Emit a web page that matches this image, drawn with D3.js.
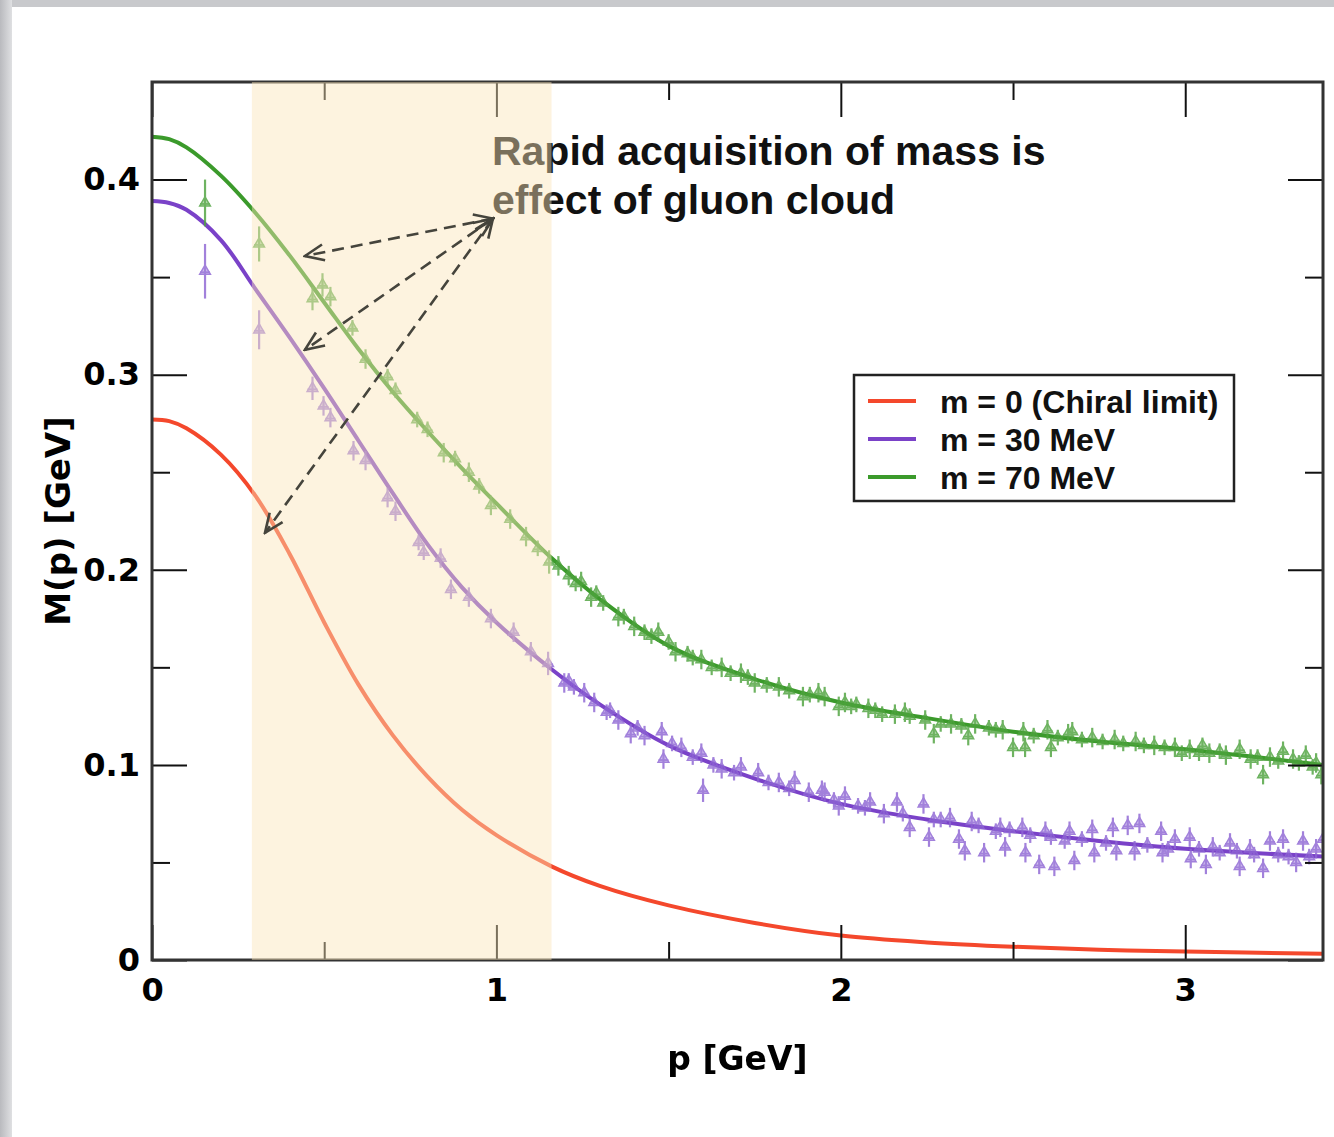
<!DOCTYPE html>
<html><head><meta charset="utf-8">
<script src="https://cdn.jsdelivr.net/npm/d3@7"></script>
<style>body{margin:0;background:#fff}svg{display:block}</style>
</head><body><script>
// ---------- data ----------
const curveP = [0,0.05,0.1,0.2,0.3,0.4,0.5,0.6,0.7,0.8,0.9,1.0,1.16,1.3,1.5,1.75,2.0,2.25,2.5,2.75,3.0,3.4];
const curveRed    = [0.277,0.2762,0.2725,0.259,0.238,0.208,0.173,0.141,0.115,0.094,0.077,0.064,0.048,0.038,0.028,0.019,0.0125,0.009,0.0068,0.0053,0.0043,0.0032];
const curvePurple = [0.389,0.388,0.3845,0.369,0.344,0.319,0.293,0.266,0.239,0.213,0.191,0.173,0.149,0.131,0.110,0.093,0.080,0.072,0.066,0.061,0.057,0.053];
const curveGreen  = [0.422,0.4207,0.4165,0.402,0.383,0.361,0.337,0.313,0.291,0.271,0.252,0.234,0.206,0.185,0.161,0.144,0.132,0.124,0.117,0.112,0.108,0.100];

const seriesNames = ["m = 0 (Chiral limit)","m = 30 MeV","m = 70 MeV"];

// lattice points [p, M, error]
const latticeGreen = [
[0.154,0.388,0.012],[0.311,0.367,0.009],[0.466,0.339,0.006],[0.495,0.346,0.006],[0.518,0.340,0.005],
[0.582,0.324,0.004],[0.620,0.308,0.005],[0.684,0.299,0.004],[0.707,0.292,0.004],[0.770,0.277,0.004],
[0.800,0.272,0.004],[0.847,0.260,0.005],[0.880,0.257,0.004],[0.920,0.250,0.005],[0.950,0.243,0.004],
[0.984,0.233,0.005],[1.040,0.226,0.005],[1.086,0.217,0.005],[1.120,0.211,0.004],[1.153,0.204,0.006],
[1.180,0.202,0.005],[1.210,0.197,0.005],[1.230,0.193,0.004],[1.246,0.194,0.005],[1.275,0.186,0.005],
[1.290,0.188,0.004],[1.310,0.183,0.004],[1.354,0.176,0.005],[1.370,0.176,0.004],[1.400,0.171,0.005],
[1.430,0.168,0.004],[1.450,0.166,0.004],[1.470,0.168,0.005],[1.500,0.163,0.004],[1.520,0.158,0.005],
[1.555,0.157,0.004],[1.570,0.155,0.004],[1.595,0.154,0.005],[1.625,0.150,0.004],[1.654,0.150,0.005],
[1.680,0.147,0.004],[1.710,0.147,0.005],[1.730,0.145,0.004],[1.750,0.142,0.005],[1.785,0.141,0.004],
[1.820,0.140,0.005],[1.850,0.138,0.004],[1.890,0.135,0.005],[1.910,0.136,0.004],[1.935,0.137,0.005],
[1.953,0.135,0.005],[1.994,0.130,0.005],[2.012,0.132,0.005],[2.030,0.130,0.004],[2.045,0.131,0.004],
[2.080,0.129,0.005],[2.100,0.128,0.004],[2.120,0.126,0.004],[2.157,0.126,0.005],[2.186,0.127,0.005],
[2.200,0.125,0.004],[2.245,0.123,0.005],[2.270,0.116,0.005],[2.290,0.121,0.004],[2.320,0.121,0.005],
[2.350,0.120,0.004],[2.370,0.115,0.005],[2.390,0.121,0.005],[2.430,0.119,0.004],[2.450,0.118,0.004],
[2.470,0.118,0.005],[2.500,0.109,0.005],[2.530,0.117,0.005],[2.535,0.109,0.005],[2.560,0.115,0.004],
[2.600,0.118,0.005],[2.610,0.109,0.005],[2.630,0.114,0.004],[2.660,0.116,0.005],[2.672,0.117,0.005],
[2.700,0.113,0.004],[2.730,0.114,0.005],[2.760,0.112,0.004],[2.795,0.113,0.005],[2.820,0.111,0.004],
[2.856,0.112,0.005],[2.880,0.110,0.004],[2.910,0.110,0.005],[2.940,0.109,0.004],[2.970,0.109,0.005],
[2.990,0.106,0.004],[3.013,0.108,0.005],[3.040,0.106,0.004],[3.050,0.110,0.004],[3.070,0.106,0.005],
[3.100,0.107,0.004],[3.118,0.105,0.005],[3.158,0.108,0.005],[3.190,0.103,0.005],[3.210,0.104,0.004],
[3.226,0.095,0.005],[3.246,0.104,0.005],[3.270,0.102,0.004],[3.284,0.107,0.005],[3.313,0.103,0.005],
[3.330,0.101,0.004],[3.350,0.105,0.005],[3.370,0.099,0.004],[3.380,0.101,0.005],[3.395,0.095,0.005]
];
const latticePurple = [
[0.154,0.353,0.014],[0.311,0.323,0.010],[0.466,0.293,0.006],[0.498,0.284,0.005],[0.518,0.278,0.005],
[0.585,0.261,0.005],[0.620,0.256,0.005],[0.684,0.237,0.005],[0.707,0.230,0.005],[0.774,0.214,0.004],
[0.789,0.209,0.004],[0.838,0.206,0.005],[0.868,0.190,0.005],[0.920,0.186,0.005],[0.984,0.175,0.005],
[1.050,0.168,0.005],[1.100,0.158,0.005],[1.150,0.152,0.006],[1.197,0.142,0.005],[1.210,0.143,0.004],
[1.225,0.140,0.004],[1.255,0.137,0.005],[1.284,0.132,0.005],[1.320,0.127,0.004],[1.330,0.128,0.004],
[1.354,0.123,0.005],[1.390,0.116,0.005],[1.410,0.119,0.004],[1.430,0.115,0.005],[1.480,0.117,0.005],
[1.485,0.103,0.005],[1.510,0.111,0.004],[1.537,0.109,0.005],[1.570,0.104,0.004],[1.595,0.106,0.005],
[1.600,0.087,0.006],[1.630,0.100,0.004],[1.654,0.098,0.005],[1.690,0.096,0.004],[1.710,0.099,0.005],
[1.760,0.096,0.005],[1.790,0.091,0.004],[1.820,0.091,0.005],[1.850,0.088,0.004],[1.866,0.092,0.005],
[1.907,0.086,0.005],[1.945,0.087,0.005],[1.953,0.086,0.005],[1.980,0.082,0.004],[1.994,0.079,0.005],
[2.012,0.084,0.005],[2.050,0.079,0.004],[2.070,0.078,0.004],[2.085,0.081,0.005],[2.125,0.075,0.005],
[2.163,0.081,0.005],[2.180,0.075,0.004],[2.200,0.068,0.005],[2.240,0.080,0.005],[2.256,0.063,0.005],
[2.270,0.072,0.004],[2.290,0.072,0.004],[2.317,0.073,0.005],[2.343,0.062,0.005],[2.360,0.056,0.005],
[2.380,0.071,0.005],[2.400,0.069,0.004],[2.416,0.055,0.005],[2.450,0.066,0.004],[2.463,0.068,0.005],
[2.477,0.058,0.005],[2.490,0.067,0.004],[2.527,0.068,0.005],[2.536,0.055,0.005],[2.550,0.064,0.004],
[2.576,0.049,0.005],[2.594,0.066,0.005],[2.610,0.063,0.004],[2.620,0.048,0.005],[2.650,0.061,0.004],
[2.664,0.066,0.005],[2.678,0.051,0.005],[2.700,0.062,0.004],[2.730,0.067,0.005],[2.736,0.055,0.005],
[2.770,0.060,0.004],[2.790,0.068,0.005],[2.800,0.056,0.005],[2.833,0.069,0.005],[2.853,0.056,0.005],
[2.867,0.070,0.005],[2.890,0.059,0.004],[2.930,0.066,0.005],[2.934,0.055,0.005],[2.950,0.057,0.004],
[2.970,0.062,0.005],[3.013,0.063,0.005],[3.016,0.052,0.005],[3.040,0.057,0.004],[3.060,0.049,0.005],
[3.080,0.058,0.005],[3.100,0.055,0.004],[3.130,0.060,0.005],[3.150,0.056,0.004],[3.158,0.048,0.005],
[3.188,0.057,0.005],[3.200,0.054,0.004],[3.226,0.047,0.005],[3.246,0.061,0.005],[3.270,0.054,0.004],
[3.284,0.062,0.005],[3.300,0.053,0.004],[3.322,0.050,0.005],[3.342,0.061,0.005],[3.360,0.053,0.004],
[3.380,0.057,0.005],[3.400,0.062,0.005]
];

const xMajorTicks = [0,1,2,3];
const xMinorTicks = [0.5,1.5,2.5];
const yMajorTicks = [0,0.1,0.2,0.3,0.4];
const yMinorTicks = [0.05,0.15,0.25,0.35];
const bandRange = [0.29,1.16];
const annotationLines = ["Rapid acquisition of mass is","effect of gluon cloud"];
const annotationAnchor = [0.987,0.4075,0.3824]; // p, baseline M line1, line2
const arrowStart = [0.99,0.380];
const arrowEnds = [[0.444,0.3608],[0.444,0.3127],[0.328,0.2189]];

// ---------- layout ----------
const W=1334, H=1137;
const L=152, R=1323, T=82, B=960;
const x = d3.scaleLinear().domain([0,3.4]).range([L,R]);
const y = d3.scaleLinear().domain([0,0.45]).range([B,T]);
const colors = ["#f4482c","#7a42c8","#3b9a2b"];
const ptColors = ["#f4482c","#8e66d4","#4fa33f"];

const svg = d3.select("body").append("svg").attr("width",W).attr("height",H);
const defs = svg.append("defs");
const gl = defs.append("linearGradient").attr("id","lg").attr("x1","0").attr("x2","1").attr("y1","0").attr("y2","0");
gl.append("stop").attr("offset","0").attr("stop-color","#b9babe");
gl.append("stop").attr("offset","1").attr("stop-color","#dfe0e2");
svg.append("rect").attr("width",W).attr("height",H).attr("fill","#c8c9cc");
svg.append("rect").attr("width",12).attr("height",H).attr("fill","url(#lg)");
svg.append("rect").attr("x",12).attr("y",7).attr("width",W-12).attr("height",H-7).attr("fill","#fff");

defs.append("clipPath").attr("id","clip").append("rect").attr("x",L).attr("y",T).attr("width",R-L).attr("height",B-T);

const mk = defs.append("marker").attr("id","chev").attr("viewBox","0 0 22 22")
  .attr("refX",20).attr("refY",11).attr("markerWidth",22).attr("markerHeight",22)
  .attr("markerUnits","userSpaceOnUse").attr("orient","auto-start-reverse");
mk.append("path").attr("d","M1,3 L20,11 L1,19").attr("fill","none").attr("stroke","#45443c").attr("stroke-width",2.6);

// curves
const plot = svg.append("g").attr("clip-path","url(#clip)");
const line = d3.line().x(d=>x(d[0])).y(d=>y(d[1])).curve(d3.curveCatmullRom.alpha(0.5));
[curveRed,curvePurple,curveGreen].forEach((c,i)=>{
  plot.append("path").datum(curveP.map((p,j)=>[p,c[j]])).attr("d",line)
    .attr("fill","none").attr("stroke",colors[i]).attr("stroke-width",4);
});

// lattice points
const tri = d3.symbol().type(d3.symbolTriangle).size(50);
[[latticePurple,1],[latticeGreen,2]].forEach(([data,ci])=>{
  const g = plot.append("g").attr("stroke",ptColors[ci]).attr("opacity",0.82);
  const pts = g.selectAll("g").data(data).join("g").attr("transform",d=>`translate(${x(d[0])},${y(d[1])})`);
  pts.append("line").attr("x1",0).attr("x2",0).attr("y1",d=>y(d[1]+d[2])-y(d[1])).attr("y2",d=>y(d[1]-d[2])-y(d[1])).attr("stroke-width",2.2);
  pts.append("line").attr("x1",-5).attr("x2",5).attr("y1",1).attr("y2",1).attr("stroke-width",1.8);
  pts.append("path").attr("d",tri).attr("fill",ptColors[ci]).attr("fill-opacity",0.5).attr("stroke-width",1.5);
});

// annotation text
const ann = svg.append("g").attr("font-family","'Liberation Sans',Arial,sans-serif").attr("font-weight","bold").attr("font-size",41).attr("fill","#111");
annotationLines.forEach((t,i)=>{
  ann.append("text").attr("x",x(annotationAnchor[0])).attr("y",y(annotationAnchor[1+i])).text(t);
});

// axes
const tickFont = "'DejaVu Sans',sans-serif";
function styleAxis(g){
  g.select(".domain").remove();
  g.selectAll(".tick line").attr("stroke","#111").attr("stroke-width",2);
  g.selectAll("text").attr("font-family",tickFont).attr("font-weight","bold").attr("font-size",32).attr("fill","#000");
}
const fmt = d=> d===0 ? "0" : d3.format(".1f")(d);
svg.append("g").attr("transform",`translate(0,${B})`).call(d3.axisBottom(x).tickValues(xMajorTicks).tickSizeInner(-35).tickSizeOuter(0).tickPadding(18).tickFormat(d3.format("d"))).call(styleAxis);
svg.append("g").attr("transform",`translate(0,${B})`).call(d3.axisBottom(x).tickValues(xMinorTicks).tickSizeInner(-18).tickSizeOuter(0).tickFormat("")).call(styleAxis);
svg.append("g").attr("transform",`translate(0,${T})`).call(d3.axisTop(x).tickValues(xMajorTicks).tickSizeInner(-35).tickSizeOuter(0).tickFormat("")).call(styleAxis);
svg.append("g").attr("transform",`translate(0,${T})`).call(d3.axisTop(x).tickValues(xMinorTicks).tickSizeInner(-18).tickSizeOuter(0).tickFormat("")).call(styleAxis);
svg.append("g").attr("transform",`translate(${L},0)`).call(d3.axisLeft(y).tickValues(yMajorTicks).tickSizeInner(-35).tickSizeOuter(0).tickPadding(12).tickFormat(fmt)).call(styleAxis);
svg.append("g").attr("transform",`translate(${L},0)`).call(d3.axisLeft(y).tickValues(yMinorTicks).tickSizeInner(-18).tickSizeOuter(0).tickFormat("")).call(styleAxis);
svg.append("g").attr("transform",`translate(${R},0)`).call(d3.axisRight(y).tickValues(yMajorTicks).tickSizeInner(-35).tickSizeOuter(0).tickFormat("")).call(styleAxis);
svg.append("g").attr("transform",`translate(${R},0)`).call(d3.axisRight(y).tickValues(yMinorTicks).tickSizeInner(-18).tickSizeOuter(0).tickFormat("")).call(styleAxis);

// frame
svg.append("rect").attr("x",L).attr("y",T).attr("width",R-L).attr("height",B-T).attr("fill","none").attr("stroke","#333").attr("stroke-width",3);

// axis titles
svg.append("text").attr("x",(L+R)/2).attr("y",1070).attr("text-anchor","middle")
  .attr("font-family",tickFont).attr("font-weight","bold").attr("font-size",33).text("p [GeV]");
svg.append("text").attr("transform",`translate(70,${(T+B)/2}) rotate(-90)`).attr("text-anchor","middle")
  .attr("font-family",tickFont).attr("font-weight","bold").attr("font-size",34).text("M(p) [GeV]");

// highlighted band (semi-transparent overlay)
svg.append("rect").attr("x",x(bandRange[0])).attr("y",T).attr("width",x(bandRange[1])-x(bandRange[0])).attr("height",B-T)
  .attr("fill","#fbe4b8").attr("opacity",0.45);

// arrows
const arr = svg.append("g");
arrowEnds.forEach(e=>{
  arr.append("line").attr("x1",x(arrowStart[0])).attr("y1",y(arrowStart[1])).attr("x2",x(e[0])).attr("y2",y(e[1]))
    .attr("stroke","#45443c").attr("stroke-width",2.6).attr("stroke-dasharray","12 7")
    .attr("marker-end","url(#chev)").attr("marker-start","url(#chev)");
});

// legend
const lg = svg.append("g");
lg.append("rect").attr("x",854).attr("y",375).attr("width",380).attr("height",126).attr("fill","#fff").attr("stroke","#222").attr("stroke-width",2.5);
seriesNames.forEach((n,i)=>{
  const yy = 401 + i*38;
  lg.append("line").attr("x1",868).attr("x2",916).attr("y1",yy).attr("y2",yy).attr("stroke",colors[i]).attr("stroke-width",4);
  lg.append("text").attr("x",940).attr("y",yy).attr("dy","0.36em").attr("font-family","'Liberation Sans',Arial,sans-serif")
    .attr("font-weight","bold").attr("font-size",32).attr("fill","#111").text(n);
});
</script></body></html>
